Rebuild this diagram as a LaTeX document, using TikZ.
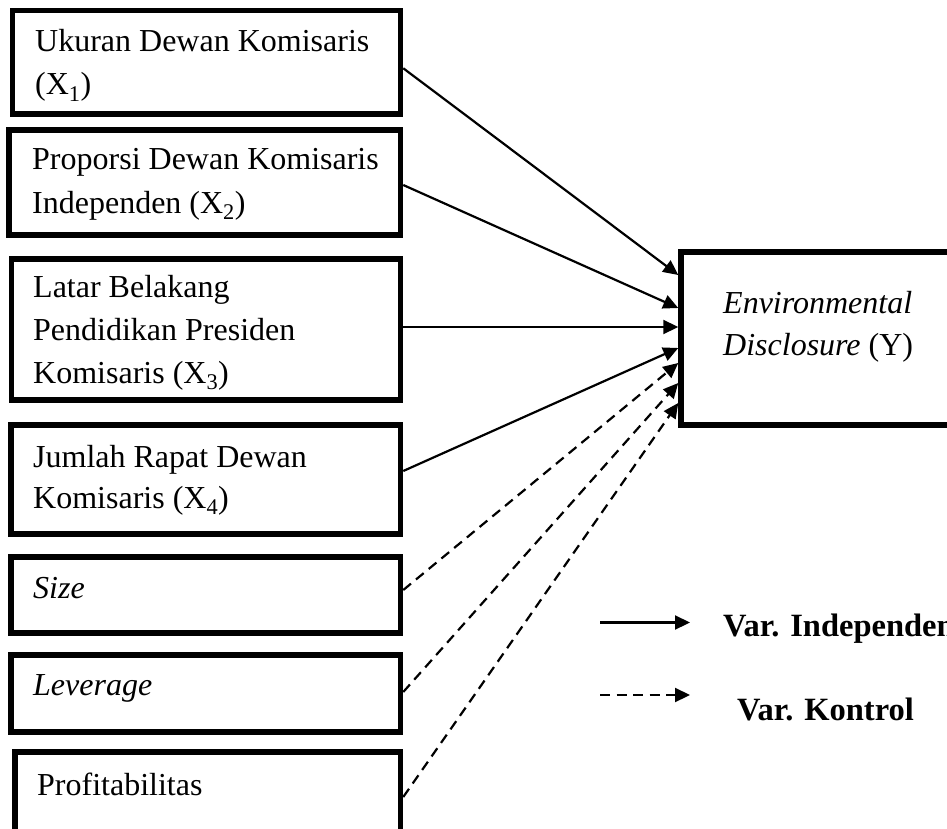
\documentclass[tikz,border=0pt]{standalone}
\usepackage{fontspec}
\setmainfont{Liberation Serif}
\usetikzlibrary{arrows.meta}
\begin{document}
\begin{tikzpicture}[x=1pt,y=-1pt,
  box/.style={draw=black,line width=5.5pt,rectangle,inner sep=0pt},
  txt/.style={anchor=base west,inner sep=0pt,font=\fontsize{32}{43}\selectfont},
  lgd/.style={anchor=base west,inner sep=0pt,font=\fontsize{32.5}{43}\selectfont\bfseries},
  conn/.style={line width=2.2pt,-{Triangle[length=15pt,width=14pt]}},
  dconn/.style={conn,dash pattern=on 10pt off 6.5pt}]
\useasboundingbox (0,0) rectangle (947,829);
% boxes
\node[box,minimum width=388pt,minimum height=103.5pt] (b1) at (206.5,62.25) {};
\node[box,minimum width=391.5pt,minimum height=105pt] (b2) at (204.75,182.5) {};
\node[box,minimum width=389pt,minimum height=141pt] (b3) at (206,329.5) {};
\node[box,minimum width=389.5pt,minimum height=109pt] (b4) at (205.75,479.5) {};
\node[box,minimum width=389.5pt,minimum height=76pt] (b5) at (205.75,595) {};
\node[box,minimum width=389.5pt,minimum height=77pt] (b6) at (205.75,693.5) {};
\node[box,minimum width=385.5pt,minimum height=82pt] (b7) at (207.75,793) {};
\node[box,minimum width=289pt,minimum height=173pt] (y) at (825.5,338.5) {};
% texts
\node[txt] (t1a) at (35,52) {Ukuran Dewan Komisaris};
\node[txt] (t1b) at (35,95) {(X\textsubscript{1})};
\node[txt] (t2a) at (32,170) {Proporsi Dewan Komisaris};
\node[txt] (t2b) at (32,213) {Independen (X\textsubscript{2})};
\node[txt] (t3a) at (33,297) {Latar Belakang};
\node[txt] (t3b) at (33,340) {Pendidikan Presiden};
\node[txt] (t3c) at (33,383) {Komisaris (X\textsubscript{3})};
\node[txt] (t4a) at (33,467) {Jumlah Rapat Dewan};
\node[txt] (t4b) at (33,508) {Komisaris (X\textsubscript{4})};
\node[txt] (t5) at (33,598) {\textit{Size}};
\node[txt] (t6) at (33,695) {\textit{Leverage}};
\node[txt] (t7) at (37,795) {Profitabilitas};
\node[txt] (ya) at (723,313) {\textit{Environmental}};
\node[txt] (yb) at (723,355) {\textit{Disclosure} (Y)};
% connectors
\draw[conn] ([yshift=-6pt]b1.east) -- ([yshift=63.5pt]y.west);
\draw[conn] ([yshift=-2.5pt]b2.east) -- ([yshift=30.5pt]y.west);
\draw[conn] ([yshift=2.5pt]b3.east) -- ([yshift=11.5pt]y.west);
\draw[conn] ([yshift=8.5pt]b4.east) -- ([yshift=-9.5pt]y.west);
\draw[dconn] ([yshift=5pt]b5.east) -- ([yshift=-24.5pt]y.west);
\draw[dconn] ([yshift=1.5pt]b6.east) -- ([yshift=-44.5pt]y.west);
\draw[dconn] ([yshift=-4pt]b7.east) -- ([yshift=-64.5pt]y.west);
% legend
\coordinate (l1s) at (600,622.5);
\coordinate (l1e) at (690,622.5);
\coordinate (l2s) at (600,695);
\coordinate (l2e) at (690,695);
\draw[conn] (l1s) -- (l1e);
\draw[dconn] (l2s) -- (l2e);
\node[lgd] (lg1) at (723,636.5) {Var. Independen};
\node[lgd] (lg2) at (737,720) {Var. Kontrol};
\end{tikzpicture}
\end{document}
